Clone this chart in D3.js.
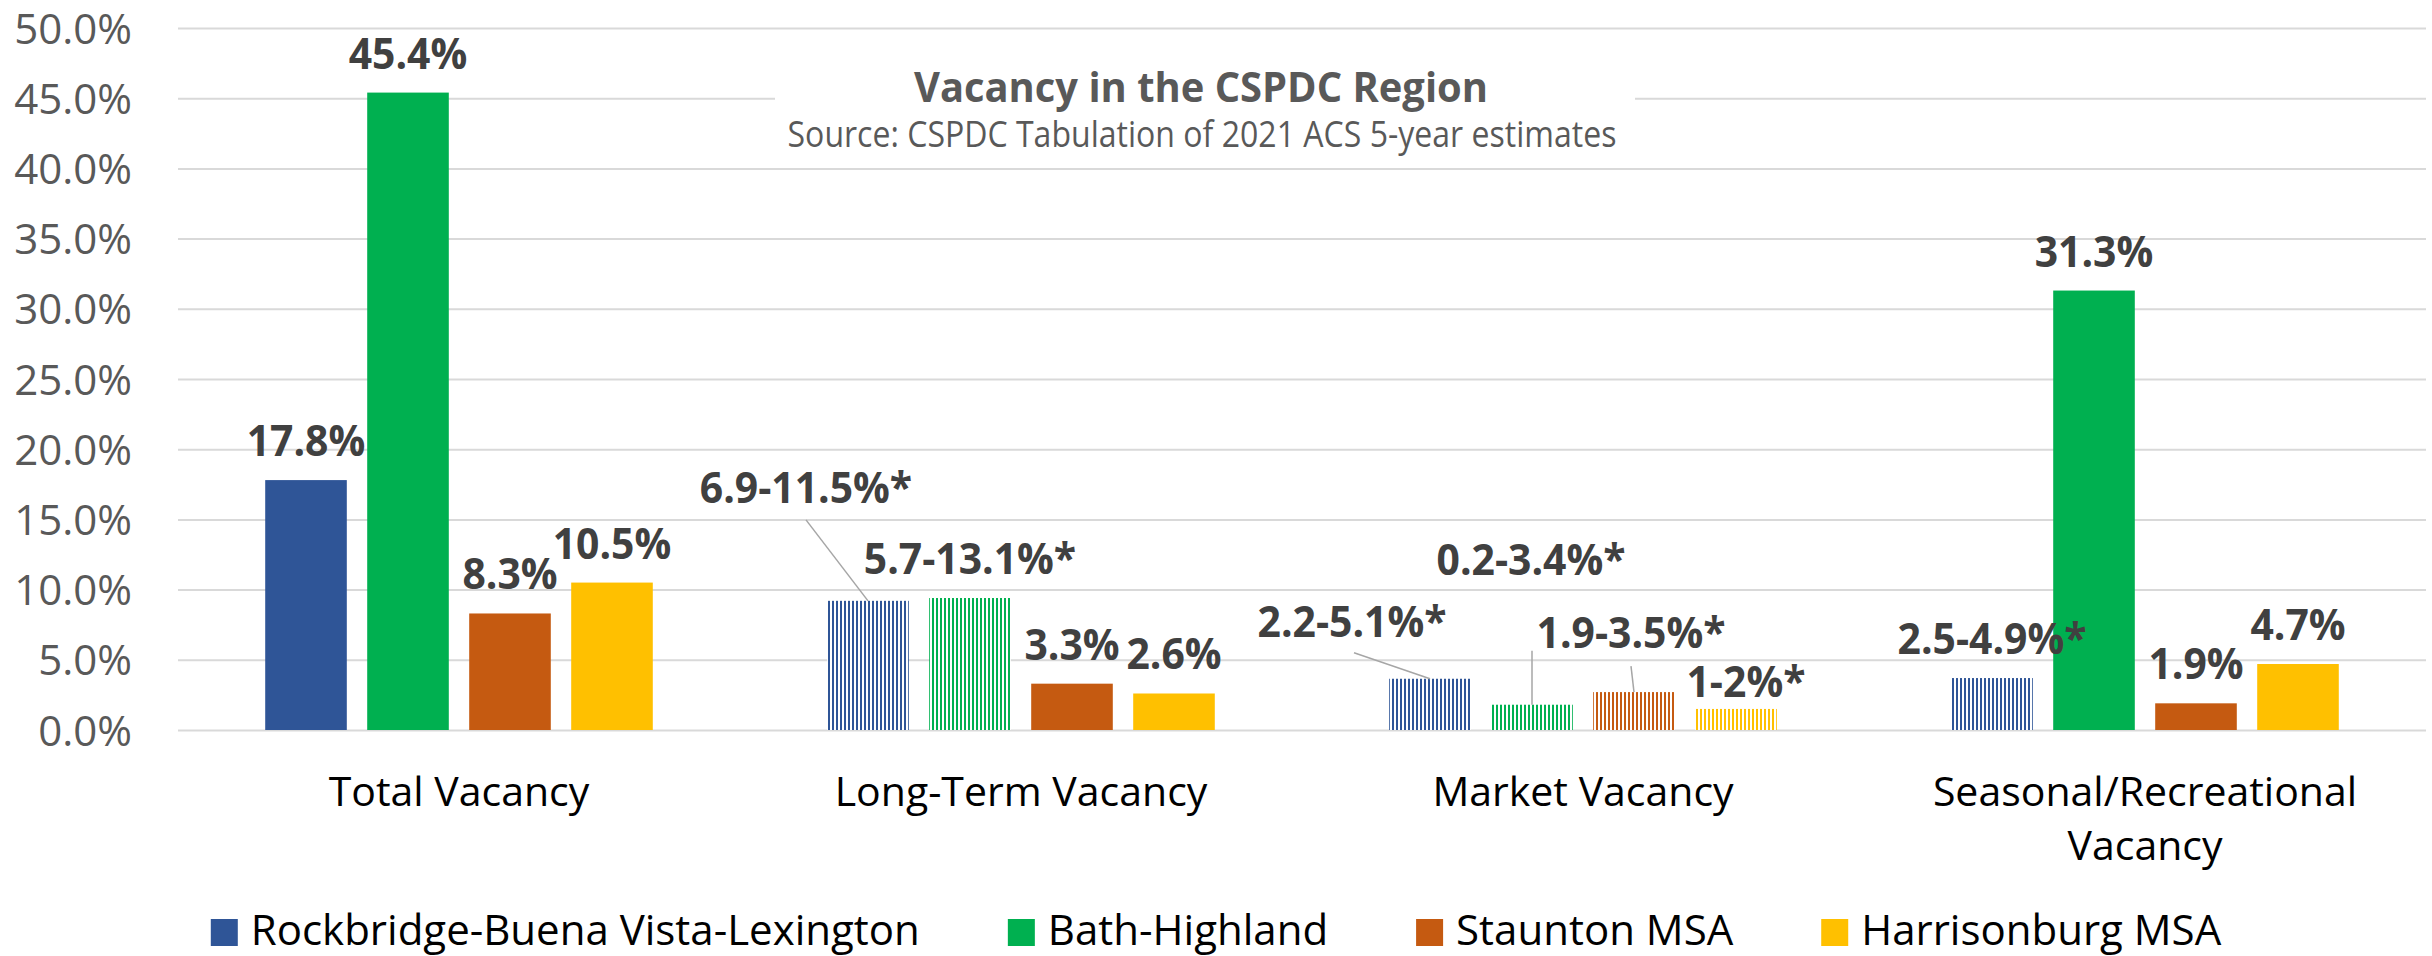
<!DOCTYPE html>
<html lang="en">
<head>
  <meta charset="UTF-8">
  <title>Vacancy in the CSPDC Region</title>
  <script src="https://d3js.org/d3.v7.min.js"></script>
  <style>
    body {
      margin: 0;
      padding: 0;
      background: #fff;
    }
    svg { display: block; }
    text { font-family: "Open Sans", sans-serif; }
  </style>
</head>
<body>
  <svg id="chart" width="2432" height="956"></svg>

  <script>
    // categories + series
    const categories = ["Total Vacancy", "Long-Term Vacancy", "Market Vacancy", "Seasonal/Recreational Vacancy"];
    const seriesNames = ["Rockbridge-Buena Vista-Lexington", "Bath-Highland", "Staunton MSA", "Harrisonburg MSA"];
    const seriesColors = ["#2F5597", "#00B050", "#C55A11", "#FFC000"];

    // bar heights (%); ranged estimates drawn at the midpoint
    const rockbridge = [17.8, 9.2, 3.65, 3.7];
    const bathHighland = [45.4, 9.4, 1.8, 31.3];
    const staunton = [8.3, 3.3, 2.7, 1.9];
    const harrisonburg = [10.5, 2.6, 1.5, 4.7];

    // data labels as printed ("*" = estimated range, hatched bar)
    const rockbridgeLabels = ["17.8%", "6.9-11.5%*", "2.2-5.1%*", "2.5-4.9%*"];
    const bathHighlandLabels = ["45.4%", "5.7-13.1%*", "0.2-3.4%*", "31.3%"];
    const stauntonLabels = ["8.3%", "3.3%", "1.9-3.5%*", "1.9%"];
    const harrisonburgLabels = ["10.5%", "2.6%", "1-2%*", "4.7%"];

    const yTicks = [0, 5, 10, 15, 20, 25, 30, 35, 40, 45, 50];

    const seriesValues = [rockbridge, bathHighland, staunton, harrisonburg];
    const seriesLabels = [rockbridgeLabels, bathHighlandLabels, stauntonLabels, harrisonburgLabels];

    // labels that were dragged away from the bar, offsets from the bar-top centre
    const labelMoves = {
      "0-1": { dx: -62, dy: -98, leader: [-62, -81] },
      "0-2": { dx: -78, dy: -42, leader: [-76, -26] },
      "1-2": { dx: -1, dy: -130, leader: [0, -54] },
      "2-2": { dx: -3, dy: -44, leader: [-3, -26] },
      "3-2": { dx: 10, dy: -12 }
    };

    const W = 2432, H = 956;
    const plot = { left: 178, right: 2426, top: 28, bottom: 730 };

    const svg = d3.select("#chart");

    // squeeze text horizontally (stand-in for the narrower Calibri)
    function squeeze(sel, k) {
      sel.each(function () {
        const len = this.getComputedTextLength();
        d3.select(this).attr("textLength", len * k).attr("lengthAdjust", "spacingAndGlyphs");
      });
    }

    const x0 = d3.scaleBand()
      .domain(categories)
      .range([plot.left, plot.right])
      .padding(0);

    const x1 = d3.scaleBand()
      .domain(d3.range(seriesNames.length))
      .range([0, x0.bandwidth()])
      .paddingInner(0.2)
      .paddingOuter(0.855);

    const y = d3.scaleLinear()
      .domain([0, 50])
      .range([plot.bottom, plot.top]);

    // hatch patterns
    const defs = svg.append("defs");
    seriesColors.forEach((c, i) => {
      const p = defs.append("pattern")
        .attr("id", "hatch" + i)
        .attr("patternUnits", "userSpaceOnUse")
        .attr("width", 4)
        .attr("height", 4);
      p.append("rect").attr("width", 4).attr("height", 4).attr("fill", "#fff");
      p.append("rect").attr("width", 2).attr("height", 4).attr("fill", c);
    });

    // y axis + gridlines
    const yAxis = d3.axisLeft(y)
      .tickValues(yTicks)
      .tickSize(-(plot.right - plot.left))
      .tickPadding(46)
      .tickFormat(d => d.toFixed(1) + "%");

    const gy = svg.append("g")
      .attr("transform", `translate(${plot.left},0)`)
      .call(yAxis);
    gy.select(".domain").remove();
    gy.selectAll(".tick line")
      .attr("stroke", "#D9D9D9")
      .attr("stroke-width", 2);
    gy.selectAll(".tick text")
      .attr("fill", "#595959")
      .style("font-size", "42px")
      .attr("dy", "0.36em");

    // title box covers the gridlines behind it
    svg.append("rect")
      .attr("x", 775).attr("y", 42)
      .attr("width", 860).attr("height", 120)
      .attr("fill", "#fff");

    svg.append("text")
      .attr("x", 1201).attr("y", 102)
      .attr("text-anchor", "middle")
      .attr("fill", "#595959")
      .style("font-size", "42px")
      .style("font-weight", "bold")
      .text("Vacancy in the CSPDC Region")
      .call(squeeze, 0.95);

    svg.append("text")
      .attr("x", 1202).attr("y", 147)
      .attr("text-anchor", "middle")
      .attr("fill", "#595959")
      .style("font-size", "36px")
      .text("Source: CSPDC Tabulation of 2021 ACS 5-year estimates")
      .call(squeeze, 0.89);

    // x axis
    const xAxis = d3.axisBottom(x0).tickSize(0).tickPadding(0);
    const gx = svg.append("g")
      .attr("transform", `translate(0,${plot.bottom})`)
      .call(xAxis);
    gx.select(".domain").remove();
    gx.selectAll(".tick text")
      .attr("fill", "#000")
      .attr("y", 76)
      .attr("dy", 0)
      .style("font-size", "41px")
      .call(wrap, x0.bandwidth() - 20);

    function wrap(texts, width) {
      texts.each(function () {
        const t = d3.select(this);
        const words = t.text().split(/\s+/);
        const xx = t.attr("x") || 0;
        t.text(null);
        let line = [];
        let ts = t.append("tspan").attr("x", xx).attr("dy", 0);
        words.forEach(w => {
          line.push(w);
          ts.text(line.join(" "));
          if (ts.node().getComputedTextLength() > width && line.length > 1) {
            line.pop();
            ts.text(line.join(" "));
            line = [w];
            ts = t.append("tspan").attr("x", xx).attr("dy", 54).text(w);
          }
        });
      });
    }

    // bars
    const barData = [];
    seriesValues.forEach((vals, s) => {
      vals.forEach((v, c) => {
        barData.push({ s, c, v, label: seriesLabels[s][c] });
      });
    });

    svg.append("g")
      .selectAll("rect")
      .data(barData)
      .join("rect")
      .attr("x", d => x0(categories[d.c]) + x1(d.s))
      .attr("y", d => y(d.v))
      .attr("width", x1.bandwidth())
      .attr("height", d => y(0) - y(d.v))
      .attr("fill", d => d.label.endsWith("*") ? `url(#hatch${d.s})` : seriesColors[d.s]);

    // label positions + leader lines
    const lab = barData.map(d => {
      const bx = x0(categories[d.c]) + x1(d.s) + x1.bandwidth() / 2;
      const by = y(d.v);
      const m = labelMoves[d.s + "-" + d.c];
      return Object.assign({}, d, {
        bx, by,
        lx: bx + (m ? m.dx : 0),
        ly: by + (m ? m.dy : -24),
        leader: m && m.leader ? [bx + m.leader[0], by + m.leader[1]] : null
      });
    });

    svg.append("g")
      .selectAll("line")
      .data(lab.filter(d => d.leader))
      .join("line")
      .attr("x1", d => d.leader[0])
      .attr("y1", d => d.leader[1])
      .attr("x2", d => d.bx)
      .attr("y2", d => d.by)
      .attr("stroke", "#A6A6A6")
      .attr("stroke-width", 1.5);

    svg.append("g")
      .selectAll("text")
      .data(lab)
      .join("text")
      .attr("x", d => d.lx)
      .attr("y", d => d.ly)
      .attr("text-anchor", "middle")
      .attr("fill", "#404040")
      .style("font-size", "43px")
      .style("font-weight", "bold")
      .text(d => d.label)
      .call(squeeze, 0.95);

    // legend, centred on the page
    const legend = svg.append("g");
    const items = legend.selectAll("g")
      .data(seriesNames)
      .join("g");
    items.append("rect")
      .attr("y", 919)
      .attr("width", 27).attr("height", 27)
      .attr("fill", (d, i) => seriesColors[i]);
    items.append("text")
      .attr("x", 40)
      .attr("y", 945)
      .attr("fill", "#000")
      .style("font-size", "42px")
      .text(d => d);

    let cx = 0;
    const offs = [];
    items.each(function () {
      offs.push(cx);
      cx += 40 + d3.select(this).select("text").node().getComputedTextLength() + 88;
    });
    const total = cx - 88;
    const start = W / 2 - total / 2;
    items.attr("transform", (d, i) => `translate(${start + offs[i]},0)`);
  </script>
</body>
</html>
